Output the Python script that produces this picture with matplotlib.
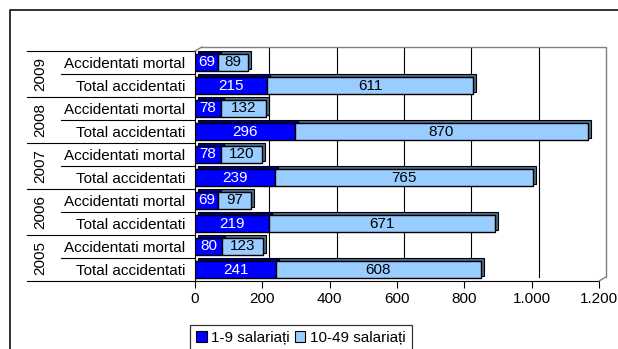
import matplotlib
matplotlib.use("Agg")
import matplotlib.pyplot as plt
import matplotlib.transforms as mtransforms
from matplotlib.lines import Line2D
from matplotlib.patches import Patch
from matplotlib.ticker import FuncFormatter

# ---- data ----
years = ["2009", "2008", "2007", "2006", "2005"]
row_labels = ["Accidentati mortal", "Total accidentati"]
mortal_1_9 = [69, 78, 78, 69, 80]
mortal_10_49 = [89, 132, 120, 97, 123]
total_1_9 = [215, 296, 239, 219, 241]
total_10_49 = [611, 870, 765, 671, 608]
series_names = ["1-9 salariați", "10-49 salariați"]
x_ticks = [0, 200, 400, 600, 800, 1000, 1200]

# ---- style ----
plt.rcParams['font.family'] = ['Liberation Sans', 'DejaVu Sans']
FS = 11
C1 = '#0000FF'
C2 = '#99CCFF'
S1 = '#000080'
S2 = '#4F6B88'

W, H = 618, 349
fig = plt.figure(figsize=(W / 100, H / 100), dpi=100)

def fx(px):
    return px / W

def fy(py):
    return (H - py) / H

ax_l, ax_r, ax_t, ax_b = 195, 599, 51, 281
ax = fig.add_axes([fx(ax_l), fy(ax_b), fx(ax_r) - fx(ax_l), fy(ax_t) - fy(ax_b)])

# build rows (top to bottom)
labels, v1, v2 = [], [], []
for i, y in enumerate(years):
    labels += row_labels
    v1 += [mortal_1_9[i], total_1_9[i]]
    v2 += [mortal_10_49[i], total_10_49[i]]
ypos = list(range(len(labels)))

ax.set_xlim(x_ticks[0], x_ticks[-1])
ax.set_ylim(len(labels) - 0.5, -0.5)

# back wall + gridlines (offset for 3D look)
dx, dy = 7 / 100, 4 / 100
wall_off = mtransforms.ScaledTranslation(dx, dy, fig.dpi_scale_trans)
grid_tr = mtransforms.blended_transform_factory(ax.transData, ax.transAxes) + wall_off
for xt in x_ticks[1:-1]:
    ax.add_line(Line2D([xt, xt], [0, 1], transform=grid_tr, color='black', lw=0.8,
                       zorder=0.5, clip_on=False))
wall_tr = ax.transAxes + wall_off
ax.add_line(Line2D([0, 1, 1], [1, 1, 0], transform=wall_tr, color='#808080', lw=1.0,
                   zorder=0.5, clip_on=False))
inv = fig.transFigure.inverted()
for (xa, ya) in [(0, 1), (1, 0)]:
    a0 = inv.transform(ax.transAxes.transform((xa, ya)))
    a1 = inv.transform(wall_tr.transform((xa, ya)))
    fig.add_artist(Line2D([a0[0], a1[0]], [a0[1], a1[1]], color='#808080', lw=1.0))

# bars with 3D shadow
bh = 0.74
sh_off = mtransforms.ScaledTranslation(3 / 100, 2.5 / 100, fig.dpi_scale_trans)
sh_tr = ax.transData + sh_off
ax.barh(ypos, v2, left=v1, height=bh, color=S2, edgecolor='black', lw=0.8,
        transform=sh_tr, zorder=1)
ax.barh(ypos, v1, height=bh, color=S1, edgecolor='black', lw=0.8,
        transform=sh_tr, zorder=1)
ax.barh(ypos, v1, height=bh, color=C1, edgecolor='black', lw=1.0, zorder=2)
ax.barh(ypos, v2, left=v1, height=bh, color=C2, edgecolor='black', lw=1.0, zorder=2)

for y, a, b in zip(ypos, v1, v2):
    ax.text(a / 2, y, str(a), ha='center', va='center', color='white', fontsize=FS, zorder=3)
    ax.text(a + b / 2, y, str(b), ha='center', va='center', color='black', fontsize=FS, zorder=3)

# axes styling
for s in ['top', 'right']:
    ax.spines[s].set_visible(False)
ax.spines['left'].set_color('black')
ax.spines['bottom'].set_color('black')
ax.patch.set_alpha(0)
ax.set_xticks(x_ticks)
ax.xaxis.set_major_formatter(FuncFormatter(lambda v, p: f"{int(v):,}".replace(",", ".")))
ax.tick_params(axis='x', length=5, width=0.8, pad=3, labelsize=FS)
ax.set_yticks(ypos)
ax.set_yticklabels(labels, fontsize=FS)
ax.tick_params(axis='y', length=0, pad=7)

# category separators and year labels
sep_tr = mtransforms.blended_transform_factory(fig.transFigure, ax.transData)
for k in range(len(years) + 1):
    yy = 2 * k - 0.5
    ax.add_line(Line2D([fx(27), fx(ax_l)], [yy, yy], transform=sep_tr, color='black',
                       lw=0.8, clip_on=False))
for k in range(len(years)):
    yy = 2 * k + 0.5
    ax.add_line(Line2D([fx(61), fx(ax_l)], [yy, yy], transform=sep_tr, color='black',
                       lw=0.8, clip_on=False))
    ax.text(fx(40), 2 * k + 0.5, years[k], transform=sep_tr, rotation=90,
            ha='center', va='center', fontsize=FS)

# outer chart frame
fig.add_artist(Line2D([fx(10), fx(10), fx(W + 5)], [fy(H + 5), fy(10), fy(10)],
                      color='#222222', lw=1.3))

# legend
handles = [Patch(facecolor=C1, edgecolor='black', lw=0.8),
           Patch(facecolor=C2, edgecolor='black', lw=0.8)]
leg = fig.legend(handles, series_names, loc='upper left',
                 bbox_to_anchor=(fx(190), fy(325)), bbox_transform=fig.transFigure,
                 ncol=2, fontsize=FS, frameon=True, fancybox=False, edgecolor='black',
                 handlelength=0.7, handleheight=0.7, handletextpad=0.3,
                 columnspacing=0.3, borderpad=0.4, borderaxespad=0)
leg.get_frame().set_linewidth(0.9)

fig.savefig('out.png', dpi=100)
